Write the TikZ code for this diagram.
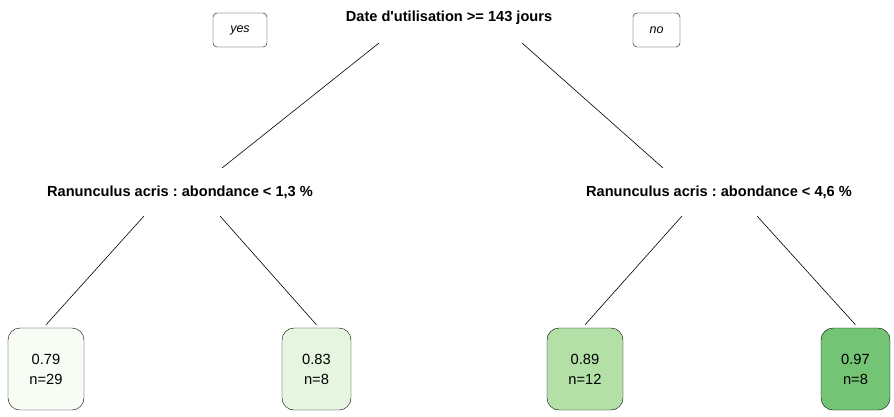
\documentclass[tikz,border=0pt]{standalone}
\usepackage{fontspec}
\setmainfont{Liberation Sans}
\usepackage{tikz}
\usetikzlibrary{positioning}
\usepackage{xcolor}
\frenchspacing

\definecolor{leafA}{HTML}{F7FCF5}
\definecolor{leafB}{HTML}{E5F5E0}
\definecolor{leafC}{HTML}{B3E0A6}
\definecolor{leafD}{HTML}{74C476}

\begin{document}
\begin{tikzpicture}[
    x=1pt, y=-1pt,
    split/.style={font=\fontsize{14.6}{17}\selectfont\bfseries, inner sep=1pt},
    tag/.style={draw, rounded corners=4pt, font=\fontsize{12.5}{15}\selectfont\itshape, minimum height=34pt, inner sep=0pt},
    leaf/.style={draw, rounded corners=12pt, minimum height=82pt, align=center, inner sep=0pt, font=\fontsize{14.7}{20}\selectfont},
    edge/.style={line width=0.6pt},
]
\useasboundingbox (0,0) rectangle (894,416);

% ---- Racine ----
\node[split] (root) at (449,18) {Date d\textquotesingle utilisation >= 143 jours};
\node[tag, minimum width=54pt] (yes) at (240,30) {yes};
\node[tag, minimum width=47pt] (no) at (656.5,30) {no};

% ---- Noeuds internes ----
\node[split] (lint) at (180,192) {Ranunculus acris : abondance < 1,3 \%};
\node[split] (rint) at (719,192) {Ranunculus acris : abondance < 4,6 \%};

% ---- Feuilles ----
\node[leaf, fill=leafA, minimum width=76pt] (leaf1) at (46,369) {0.79\\n=29};
\node[leaf, fill=leafB, minimum width=69pt] (leaf2) at (316.5,369) {0.83\\n=8};
\node[leaf, fill=leafC, minimum width=76pt] (leaf3) at (585,369) {0.89\\n=12};
\node[leaf, fill=leafD, minimum width=69pt] (leaf4) at (855.5,369) {0.97\\n=8};

% ---- Branches ----
\draw[edge] ([shift={(-70,25)}]root.center) -- ([shift={(42,-24)}]lint.center);
\draw[edge] ([shift={(73,25)}]root.center) -- ([shift={(-56,-24)}]rint.center);
\draw[edge] ([shift={(-36,24)}]lint.center) -- ([yshift=3pt]leaf1.north);
\draw[edge] ([shift={(40,24)}]lint.center) -- ([yshift=3pt]leaf2.north);
\draw[edge] ([shift={(-37,24)}]rint.center) -- ([yshift=3pt]leaf3.north);
\draw[edge] ([shift={(38,24)}]rint.center) -- ([yshift=3pt]leaf4.north);

\end{tikzpicture}
\end{document}
